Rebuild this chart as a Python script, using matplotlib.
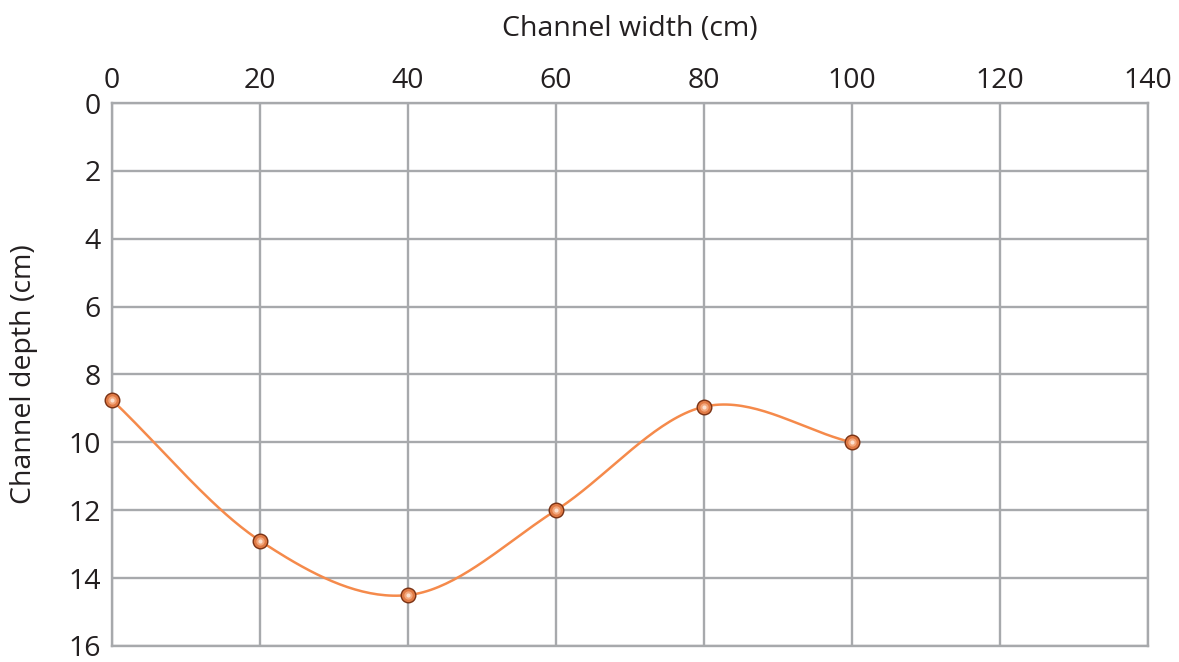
import numpy as np
import matplotlib
matplotlib.use('Agg')
import matplotlib.pyplot as plt

# data
width_cm = [0, 20, 40, 60, 80, 100]
depth_cm = [8.75, 12.9, 14.5, 12.0, 8.95, 10.0]
x_ticks = [0, 20, 40, 60, 80, 100, 120, 140]
y_ticks = [0, 2, 4, 6, 8, 10, 12, 14, 16]

plt.rcParams['font.family'] = ['Open Sans', 'DejaVu Sans']

grid_col = '#a7a9ac'
text_col = '#231f20'


def catmull_rom(xs, ys, n=40):
    # smooth curve through the points (display only)
    px = np.array(xs, float)
    py = np.array(ys, float)
    px = np.concatenate([[2 * px[0] - px[1]], px, [2 * px[-1] - px[-2]]])
    py = np.concatenate([[2 * py[0] - py[1]], py, [2 * py[-1] - py[-2]]])
    out_x, out_y = [], []
    t = np.linspace(0, 1, n)
    for i in range(1, len(px) - 2):
        for p, out in ((px, out_x), (py, out_y)):
            p0, p1, p2, p3 = p[i - 1], p[i], p[i + 1], p[i + 2]
            out.extend(0.5 * ((2 * p1) + (-p0 + p2) * t
                              + (2 * p0 - 5 * p1 + 4 * p2 - p3) * t ** 2
                              + (-p0 + 3 * p1 - 3 * p2 + p3) * t ** 3))
    return np.array(out_x), np.array(out_y)


fig = plt.figure(figsize=(11.79, 6.62), dpi=100)
ax = fig.add_axes([0.095, 0.0242, 0.8787, 0.8202])

ax.set_xlim(0, 140)
ax.set_ylim(16, 0)
ax.xaxis.tick_top()
ax.xaxis.set_label_position('top')
ax.set_xticks(x_ticks)
ax.set_yticks(y_ticks)
ax.tick_params(length=0, labelsize=20.5, colors=text_col)
ax.tick_params(axis='x', pad=6)
ax.tick_params(axis='y', pad=8)

ax.grid(True, color=grid_col, linewidth=1.7)
for s in ax.spines.values():
    s.set_color(grid_col)
    s.set_linewidth(1.7)
ax.set_axisbelow(True)

cx, cy = catmull_rom(width_cm, depth_cm)
ax.plot(cx, cy, color='#f58a4b', linewidth=1.8, zorder=3)
ax.plot(width_cm, depth_cm, 'o', markersize=10.5, markerfacecolor='#e07a45',
        markeredgecolor='#7a3214', markeredgewidth=1.0, zorder=4, clip_on=False)
ax.plot(width_cm, depth_cm, 'o', markersize=6, markerfacecolor='#f3a77c',
        markeredgewidth=0, zorder=5, clip_on=False)
ax.plot(width_cm, depth_cm, 'o', markersize=3, markerfacecolor='#fbe0cf',
        markeredgewidth=0, zorder=6, clip_on=False)

ax.set_xlabel('Channel width (cm)', fontsize=20.5, color=text_col, labelpad=22)
ax.set_ylabel('Channel depth (cm)', fontsize=20.5, color=text_col, labelpad=22)

fig.savefig('out.png', dpi=100)
